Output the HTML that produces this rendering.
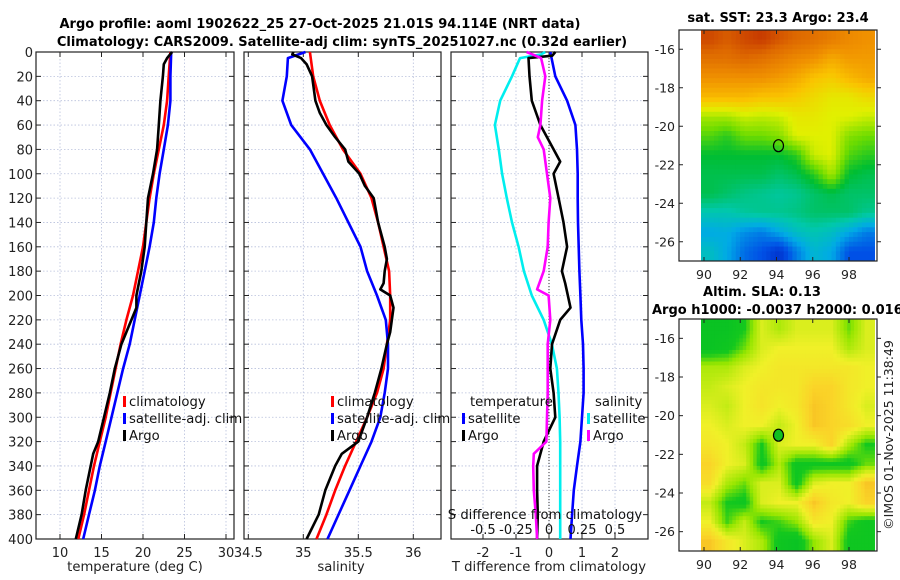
<!DOCTYPE html>
<html><head><meta charset="utf-8"><style>
html,body{margin:0;padding:0;background:#fff;}
svg{display:block;font-family:"DejaVu Sans","Liberation Sans",sans-serif;}
</style></head><body>
<svg id="fig" width="900" height="580" viewBox="0 0 900 580" xmlns="http://www.w3.org/2000/svg">
<defs>
<clipPath id="cm1"><rect x="701" y="30" width="174" height="231"/></clipPath>
<clipPath id="cm2"><rect x="701" y="319" width="174" height="232"/></clipPath>
</defs>
<text x="320" y="28" text-anchor="middle" font-size="13" font-weight="bold">Argo profile: aoml 1902622_25 27-Oct-2025 21.01S 94.114E (NRT data)</text>
<text x="342" y="46" text-anchor="middle" font-size="13" font-weight="bold">Climatology: CARS2009. Satellite-adj clim: synTS_20251027.nc (0.32d earlier)</text>
<g id="plots"></g>
<text x="778" y="22" text-anchor="middle" font-size="13" font-weight="bold">sat. SST: 23.3 Argo: 23.4</text>
<text x="762" y="296" text-anchor="middle" font-size="13" font-weight="bold">Altim. SLA: 0.13</text>
<text x="652" y="314" font-size="13" font-weight="bold">Argo h1000: -0.0037 h2000: 0.016</text>
<text transform="translate(893,435) rotate(-90)" text-anchor="middle" font-size="12.5" fill="#222">©IMOS 01-Nov-2025 11:38:49</text>
</svg>
<script>
// ---- profile data ----
const depthT = [0,20,40,60,80,100,120,140,160,180,200,220,240,260,280,300,320,340,360,380,400];
const tempClim = [23.3,23.1,22.9,22.5,21.9,21.3,20.8,20.4,20.0,19.4,18.8,18.0,17.3,16.7,16.1,15.5,14.8,14.1,13.5,12.9,12.2];
const tempSat = [23.4,23.3,23.3,23.0,22.5,22.0,21.6,21.3,20.8,20.2,19.6,19.0,18.4,17.6,16.9,16.2,15.5,14.8,14.2,13.5,12.8];
const depthArgoT = [0,5,10,20,40,60,80,100,120,140,160,180,200,210,220,240,260,280,300,320,330,340,360,380,400];
const tempArgo = [23.5,22.9,22.5,22.4,22.1,21.9,21.7,21.2,20.6,20.4,20.2,19.8,19.2,19.2,18.6,17.4,16.6,16.0,15.3,14.6,14.0,13.7,13.1,12.6,11.9];
const salClim = [35.06,35.09,35.15,35.24,35.36,35.52,35.62,35.68,35.73,35.78,35.79,35.79,35.76,35.73,35.67,35.58,35.48,35.38,35.29,35.21,35.12];
const depthSatS = [0,5,20,40,60,80,100,120,140,160,180,200,220,240,260,280,300,320,340,360,380,400];
const salSat = [35.02,34.86,34.85,34.81,34.89,35.06,35.18,35.30,35.41,35.52,35.58,35.67,35.75,35.77,35.77,35.74,35.70,35.62,35.52,35.42,35.32,35.22];
const depthArgoS = [0,2,5,10,20,40,50,60,70,80,90,100,110,120,140,160,170,180,190,195,200,210,230,240,260,280,300,320,330,340,360,380,400];
const salArgo = [34.91,34.9,34.98,35.03,35.08,35.11,35.15,35.21,35.29,35.38,35.41,35.51,35.56,35.64,35.68,35.74,35.76,35.74,35.73,35.70,35.79,35.82,35.79,35.76,35.71,35.65,35.58,35.50,35.35,35.29,35.20,35.14,35.03];
// differences
const depthDT = [0,20,40,60,80,100,120,140,160,180,200,220,240,260,280,300,320,340,360,380,400];
const dTsat = [0.04,0.19,0.55,0.8,0.85,0.87,0.87,0.88,0.9,0.92,0.95,0.98,1.03,1.05,1.05,1.0,0.95,0.85,0.75,0.7,0.65];
const depthDTargo = [0,3,5,20,40,60,80,90,100,120,140,160,180,190,210,220,240,260,280,300,320,340,360,380,400];
const dTargo = [0.19,0.1,-0.62,-0.59,-0.52,-0.26,0.14,0.34,0.14,0.29,0.44,0.55,0.39,0.49,0.65,0.34,0.09,0.04,0.14,0.19,-0.16,-0.36,-0.36,-0.34,-0.36];
const depthDS = [0,2,5,20,40,60,80,100,120,140,160,180,200,220,240,260,280,300,320,340,360,380,400];
const dSsat = [-0.028,-0.06,-0.22,-0.28,-0.37,-0.41,-0.38,-0.355,-0.32,-0.28,-0.23,-0.19,-0.13,-0.04,0.022,0.06,0.072,0.08,0.085,0.085,0.085,0.085,0.085];
const depthDSargo = [0,5,20,40,60,70,80,100,120,140,160,180,195,200,220,240,260,280,300,320,330,340,360,380,400];
const dSargo = [-0.17,-0.06,-0.028,-0.052,-0.065,-0.085,-0.04,-0.015,0.01,-0.003,-0.01,-0.04,-0.09,-0.003,0.01,-0.01,-0.01,-0.01,-0.015,-0.02,-0.115,-0.12,-0.115,-0.1,-0.09];
const depthTicks = [0,20,40,60,80,100,120,140,160,180,200,220,240,260,280,300,320,340,360,380,400];
const tempTicks = [10,15,20,25,30];
const salTicks = [34.5,35,35.5,36];
const dTTicks = [-2,-1,0,1,2];
const dSTicks = [-0.5,-0.25,0,0.25,0.5];
const dSTickLabels = ["-0.5","-0.25","0","0.25","0.5"];
// ---- map data (normalised colour level per 1deg lat row, ~0.96deg lon col) ----
const sstGrid = [
[0.95,0.92,0.95,0.97,0.93,0.9,0.88,0.85,0.82,0.8],
[0.88,0.88,0.9,0.88,0.85,0.82,0.8,0.75,0.78,0.78],
[0.8,0.8,0.8,0.8,0.78,0.75,0.7,0.68,0.72,0.75],
[0.72,0.72,0.72,0.7,0.7,0.68,0.65,0.62,0.62,0.65],
[0.55,0.55,0.58,0.57,0.58,0.62,0.62,0.6,0.6,0.58],
[0.48,0.45,0.5,0.5,0.52,0.6,0.6,0.6,0.52,0.5],
[0.42,0.42,0.42,0.42,0.42,0.45,0.58,0.6,0.48,0.45],
[0.4,0.4,0.4,0.4,0.38,0.4,0.45,0.55,0.42,0.4],
[0.4,0.38,0.36,0.35,0.34,0.35,0.38,0.4,0.38,0.38],
[0.32,0.32,0.34,0.35,0.35,0.36,0.38,0.38,0.38,0.35],
[0.25,0.26,0.22,0.2,0.25,0.3,0.32,0.3,0.25,0.2],
[0.3,0.25,0.18,0.15,0.1,0.2,0.28,0.25,0.15,0.15]];
const slaGrid = [
[0.1,0.1,0.2,0.5,0.4,0.5,0.5,0.5,0.3,0.5],
[0.1,0.15,0.3,0.5,0.55,0.55,0.55,0.55,0.4,0.5],
[0.4,0.4,0.5,0.55,0.6,0.6,0.6,0.6,0.6,0.55],
[0.45,0.5,0.55,0.6,0.6,0.6,0.7,0.7,0.6,0.55],
[0.5,0.45,0.55,0.62,0.55,0.6,0.75,0.7,0.6,0.5],
[0.55,0.5,0.55,0.55,0.45,0.55,0.75,0.7,0.65,0.55],
[0.6,0.55,0.45,0.2,0.5,0.55,0.55,0.7,0.4,0.2],
[0.7,0.55,0.5,0.15,0.4,0.15,0.15,0.15,0.15,0.3],
[0.65,0.4,0.3,0.5,0.5,0.15,0.5,0.55,0.55,0.75],
[0.45,0.2,0.15,0.5,0.55,0.55,0.75,0.6,0.55,0.7],
[0.55,0.25,0.45,0.2,0.25,0.35,0.6,0.55,0.25,0.15],
[0.75,0.6,0.5,0.4,0.15,0.1,0.35,0.5,0.15,0.15]];
const lonTicks = [90,92,94,96,98];
const latTicks = [-16,-18,-20,-22,-24,-26];
const argoLon = 94.11;
const argoLat = -21.01;

const NS='http://www.w3.org/2000/svg';
const root=document.getElementById('plots');
function el(tag,attrs,parent){const e=document.createElementNS(NS,tag);for(const k in attrs)e.setAttribute(k,attrs[k]);(parent||root).appendChild(e);return e;}
const Y0=52,Y1=539;
function yD(d){return Y0+(Y1-Y0)*d/400;}
function lin(d0,d1,p0,p1){return v=>p0+(v-d0)*(p1-p0)/(d1-d0);}

function panel(name,x0,x1,xs,ticks,labels,showY){
  const g=el('g',{});
  
  
  ticks.forEach(t=>{const x=xs(t);
    const l=el('line',{x1:x,x2:x,y1:Y0,y2:Y1,stroke:'#b8c0dc','stroke-width':0.8,'stroke-dasharray':'1.5,2'},g);
    
    el('line',{x1:x,x2:x,y1:Y1,y2:Y1-5,stroke:'#222'},g);el('line',{x1:x,x2:x,y1:Y0,y2:Y0+5,stroke:'#222'},g);
    if(labels){const tx=el('text',{x:x,y:Y1+18,'text-anchor':'middle','font-size':13,fill:'#222'},g);tx.textContent=labels(t);
      }
  });
  depthTicks.forEach(d=>{const y=yD(d);
    const l=el('line',{x1:x0,x2:x1,y1:y,y2:y,stroke:'#b8c0dc','stroke-width':0.8,'stroke-dasharray':'1.5,2'},g);
    
    el('line',{x1:x0,x2:x0+5,y1:y,y2:y,stroke:'#222'},g);el('line',{x1:x1,x2:x1-5,y1:y,y2:y,stroke:'#222'},g);
    if(showY){const tx=el('text',{x:x0-3,y:y+5,'text-anchor':'end','font-size':13,fill:'#222'},g);tx.textContent=d;
      }
  });
  const b=el('rect',{x:x0,y:Y0,width:x1-x0,height:Y1-Y0,fill:'none',stroke:'#222','stroke-width':1.2},g);
  
  return g;
}
function series(g,name,depths,vals,xs,color){
  const pts=depths.map((d,i)=>xs(vals[i]).toFixed(1)+','+yD(d).toFixed(1)).join(' ');
  const p=el('polyline',{points:pts,fill:'none',stroke:color,'stroke-width':2.6,'stroke-linejoin':'round'},g);
  
  
}
function legend(g,x,y,items){
  items.forEach((it,i)=>{const yy=y+i*17;
    const r=el('rect',{x:x,y:yy-9,width:3,height:11,fill:it[1]},g);
    
    const t=el('text',{x:x+6,y:yy+1,'font-size':13.2,fill:'#111'},g);t.textContent=it[0];
    });
}
// panel 1
const xT=lin(10,30,60,226);
const g1=panel('temperature-panel',36,234,xT,tempTicks,t=>t,true);
series(g1,'temp-climatology-line',depthT,tempClim,xT,'#ff0000');
series(g1,'temp-satellite-line',depthT,tempSat,xT,'#0000ff');
series(g1,'temp-argo-line',depthArgoT,tempArgo,xT,'#000');
legend(g1,123,405,[['climatology','#ff0000'],['satellite-adj. clim','#0000ff'],['Argo','#000']]);
let t1=el('text',{x:135,y:571,'text-anchor':'middle','font-size':13.2,fill:'#222'},g1);t1.textContent='temperature (deg C)';

// panel 2
const xS=lin(35,36,303.3,413.3);
const g2=panel('salinity-panel',244,441,xS,salTicks,t=>t,false);
series(g2,'sal-climatology-line',depthT,salClim,xS,'#ff0000');
series(g2,'sal-satellite-line',depthSatS,salSat,xS,'#0000ff');
series(g2,'sal-argo-line',depthArgoS,salArgo,xS,'#000');
legend(g2,331,405,[['climatology','#ff0000'],['satellite-adj. clim','#0000ff'],['Argo','#000']]);
let t2=el('text',{x:341,y:571,'text-anchor':'middle','font-size':13.2,fill:'#222'},g2);t2.textContent='salinity';

// panel 3
const xDT=lin(0,1,549,582);
const xDS=lin(0,1,549,681);
const g3=panel('difference-panel',451,648,xDT,dTTicks,t=>t,false);
el('line',{x1:549,x2:549,y1:Y0,y2:Y1,stroke:'#333','stroke-width':1,'stroke-dasharray':'1,2'},g3);
series(g3,'temp-satellite-diff-line',depthDT,dTsat,xDT,'#0000ff');
series(g3,'sal-satellite-diff-line',depthDS,dSsat,xDS,'#00eeee');
series(g3,'temp-argo-diff-line',depthDTargo,dTargo,xDT,'#000');
series(g3,'sal-argo-diff-line',depthDSargo,dSargo,xDS,'#ff00ff');
let lt=el('text',{x:470,y:406,'font-size':13.2,fill:'#111'},g3);lt.textContent='temperature';

let ls=el('text',{x:595,y:406,'font-size':13.2,fill:'#111'},g3);ls.textContent='salinity';

legend(g3,462,422,[['satellite','#0000ff'],['Argo','#000']]);
legend(g3,587,422,[['satellite','#00eeee'],['Argo','#ff00ff']]);
let st=el('text',{x:545,y:519,'text-anchor':'middle','font-size':13.2,fill:'#111'},g3);st.textContent='S difference from climatology';

dSTicks.forEach((t,i)=>{const tx=el('text',{x:xDS(t),y:534,'text-anchor':'middle','font-size':13,fill:'#111'},g3);tx.textContent=dSTickLabels[i];
  });
let tt=el('text',{x:549,y:571,'text-anchor':'middle','font-size':13.2,fill:'#222'},g3);tt.textContent='T difference from climatology';


// ---- maps ----
function interp(stops,v){v=Math.max(0,Math.min(1,v));for(let i=1;i<stops.length;i++){if(v<=stops[i][0]){const a=stops[i-1],b=stops[i],f=(v-a[0])/(b[0]-a[0]);
  return 'rgb('+[1,2,3].map(k=>Math.round(a[k]+(b[k]-a[k])*f)).join(',')+')';}}return 'rgb(0,0,0)';}
const jet=[[0,0,0,160],[0.15,0,80,230],[0.25,0,170,230],[0.33,0,200,170],[0.42,0,190,50],[0.5,110,220,0],[0.6,225,240,0],[0.7,250,195,0],[0.8,240,145,0],[0.9,222,105,0],[1,190,40,0]];
const slaMap=[[0,0,190,40],[0.2,20,200,30],[0.35,150,230,0],[0.55,240,240,40],[0.7,250,212,40],[0.85,245,170,30],[1,240,140,20]];
function sample(grid,fr,fc){
  const R=grid.length,C=grid[0].length;
  let r=Math.max(0,Math.min(R-1,fr-0.5)), c=Math.max(0,Math.min(C-1,fc-0.5));
  const r0=Math.floor(r),c0=Math.floor(c),r1=Math.min(R-1,r0+1),c1=Math.min(C-1,c0+1),a=r-r0,b=c-c0;
  return grid[r0][c0]*(1-a)*(1-b)+grid[r0][c1]*(1-a)*b+grid[r1][c0]*a*(1-b)+grid[r1][c1]*a*b;
}
function mapAxes(name,top,bot,grid,cmap,sub,clip){
  const g=el('g',{});
  
  
  const xL=lin(90,98,704,849), yL=lin(-16,-26,top+(bot-top)*1/12,top+(bot-top)*11/12);
  const img=el('g',{'clip-path':'url(#'+clip+')'},g);
  const R=grid.length*sub,C=grid[0].length*sub;
  const cw=(875-701)/C, rh=(bot-top)/R;
  for(let r=0;r<R;r++)for(let c=0;c<C;c++){
    const v=sample(grid,(r+0.5)/sub,(c+0.5)/sub);
    el('rect',{x:(701+c*cw).toFixed(2),y:(top+r*rh).toFixed(2),width:(cw+0.5).toFixed(2),height:(rh+0.5).toFixed(2),fill:interp(cmap,v)},img);
  }
  const box=el('rect',{x:679,y:top,width:198,height:bot-top,fill:'none',stroke:'#222','stroke-width':1.2},g);
  
  lonTicks.forEach(t=>{const x=xL(t);el('line',{x1:x,x2:x,y1:bot,y2:bot-4,stroke:'#222'},g);el('line',{x1:x,x2:x,y1:top,y2:top+4,stroke:'#222'},g);
    const tx=el('text',{x:x,y:bot+18,'text-anchor':'middle','font-size':12.5,fill:'#222'},g);tx.textContent=t;
    });
  latTicks.forEach(t=>{const y=yL(t);el('line',{x1:679,x2:683,y1:y,y2:y,stroke:'#222'},g);el('line',{x1:877,x2:881,y1:y,y2:y,stroke:'#222'},g);
    const tx=el('text',{x:675,y:y+4.5,'text-anchor':'end','font-size':12.5,fill:'#222'},g);tx.textContent=t;
    });
  const m=el('ellipse',{cx:xL(argoLon),cy:yL(argoLat),rx:5,ry:6,fill:clip==='cm2'?'#10c020':'none',stroke:'#000','stroke-width':1.2},g);
  
}
mapAxes('sst-map',30,261,sstGrid,jet,4,'cm1');
mapAxes('sla-map',319,551,slaGrid,slaMap,5,'cm2');
</script>
</body></html>
